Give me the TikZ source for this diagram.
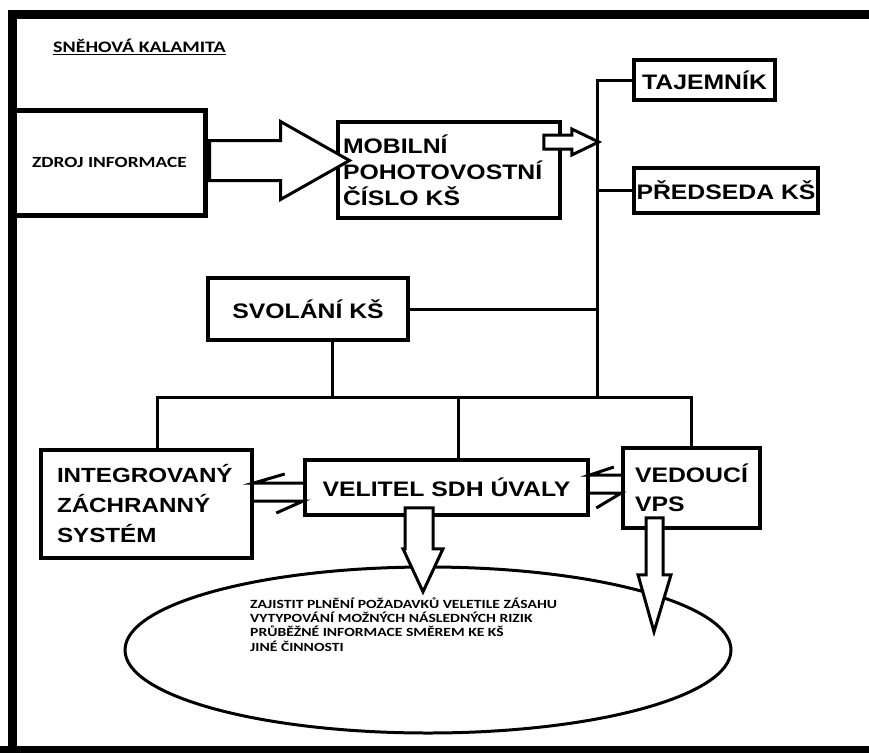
\documentclass[tikz,border=0pt]{standalone}
\usepackage{fontspec}
\setmainfont{Liberation Sans}
\newfontfamily\boxfont[FakeStretch=1.18]{Liberation Sans}
\newfontfamily\notefont[FakeStretch=1.25]{Carlito}
\usetikzlibrary{shapes.geometric,calc}

\begin{document}
\begin{tikzpicture}[x=1pt,y=-1pt,
  box/.style={draw,line width=3.5pt,fill=white,inner sep=0pt,
    font={\boxfont\bfseries\fontsize{21}{26}\selectfont}},
  link/.style={line width=3pt},
  blok/.style={draw,line width=3pt,fill=white,line join=miter}]
\useasboundingbox (0,0) rectangle (869,752);

% ram
\draw[line width=9pt] (12,760) -- (12,15) -- (880,15);
\draw[line width=9pt] (0,750) -- (880,750);

\node[anchor=west,inner sep=0pt,font={\notefont\bfseries\fontsize{16}{18}\selectfont}] (nadpis) at (53,47) {\underline{SNĚHOVÁ KALAMITA}};

\node[box,line width=5pt,minimum width=191pt,minimum height=105pt,
  font={\notefont\bfseries\fontsize{15.5}{18}\selectfont}] (zdroj) at (109.5,162.5) {ZDROJ INFORMACE};
\node[box,minimum width=222pt,minimum height=96pt,text width=212pt,align=left] (mobil) at (449,170) {MOBILNÍ\\POHOTOVOSTNÍ\\ČÍSLO KŠ};
\node[box,minimum width=141pt,minimum height=40pt] (tajem) at (704.5,80) {TAJEMNÍK};
\node[box,minimum width=184pt,minimum height=45pt] (predseda) at (726,190.5) {PŘEDSEDA KŠ};
\node[box,minimum width=200pt,minimum height=62pt] (svolani) at (308,309) {SVOLÁNÍ KŠ};
\node[box,minimum width=211pt,minimum height=108pt,text width=179pt,align=left,
  font={\boxfont\bfseries\fontsize{20.5}{30}\selectfont}] (izs) at (146.5,504) {INTEGROVANÝ\\ZÁCHRANNÝ\\SYSTÉM};
\node[box,minimum width=283pt,minimum height=55pt] (velitel) at (446.5,487.5) {VELITEL SDH ÚVALY};
\node[box,minimum width=137pt,minimum height=80pt,text width=113pt,align=left,
  font={\boxfont\bfseries\fontsize{21}{29}\selectfont}] (vedouci) at (691.5,488) {VEDOUCÍ\\VPS};

\node[draw,ellipse,line width=3pt,minimum width=606pt,minimum height=166pt,inner sep=0pt] (ukoly) at (428,650) {};
\node[anchor=west,align=left,inner sep=0pt,font={\notefont\bfseries\fontsize{12.5}{14.3}\selectfont}] (ukolytext) at (250,624.5)
  {ZAJISTIT PLNĚNÍ POŽADAVKŮ VELETILE ZÁSAHU\\VYTYPOVÁNÍ MOŽNÝCH NÁSLEDNÝCH RIZIK\\PRŮBĚŽNÉ INFORMACE SMĚREM KE KŠ\\JINÉ ČINNOSTI};

% spojnice
\coordinate (uzel) at (597,397);
\draw[link] (tajem.west) -| (uzel);
\draw[link] (predseda.west) -- (predseda.west -| uzel);
\draw[link] (svolani.east) -- (svolani.east -| uzel);
\draw[link] ($(svolani.south)+(24,0)$) coordinate (s1) -- (s1 |- uzel);
\draw[link] ($(izs.north)+(10.5,0)$) |- (vedouci.north |- uzel) -- (vedouci.north);
\draw[link] ($(velitel.north)+(11.5,0)$) coordinate (v1) -- (v1 |- uzel);

\draw[link] ($(velitel.west)+(0,-4.5)$) -- ($(izs.east)+(0,-21)$) -- ++(31,-9);
\draw[link] ($(izs.east)+(0,-3)$) -- ($(velitel.west)+(0,13.5)$) -- ++(-27,12);
\draw[link] ($(vedouci.west)+(0,-13)$) -- ($(velitel.east)+(0,-12.5)$) -- ++(24,-8);
\draw[link] ($(velitel.east)+(0,5.5)$) -- ($(vedouci.west)+(0,5)$) -- ++(-25,15);

% sipky
\draw[blok] ($(zdroj.east)+(2,-22)$) -- ++(71,0) -- ++(0,-19) -- ++(69,39) -- ++(-69,39) -- ++(0,-19) -- ++(-71,0) -- cycle;
\draw[blok] ($(mobil.east)+(-18,-35)$) -- ++(28,0) -- ++(0,-6) -- ++(27,13) -- ++(-27,13) -- ++(0,-6) -- ++(-28,0) -- cycle;
\draw[blok] ($(velitel.south)+(-41.5,-9)$) -- ++(28,0) -- ++(0,41) -- ++(10,0) -- ++(-20,43) -- ++(-20,-43) -- ++(2,0) -- cycle;
\draw[blok] ($(vedouci.south)+(-45.5,-12)$) -- ++(17,0) -- ++(0,57) -- ++(8,0) -- ++(-17,57) -- ++(-16,-57) -- ++(8,0) -- cycle;
\end{tikzpicture}
\end{document}
